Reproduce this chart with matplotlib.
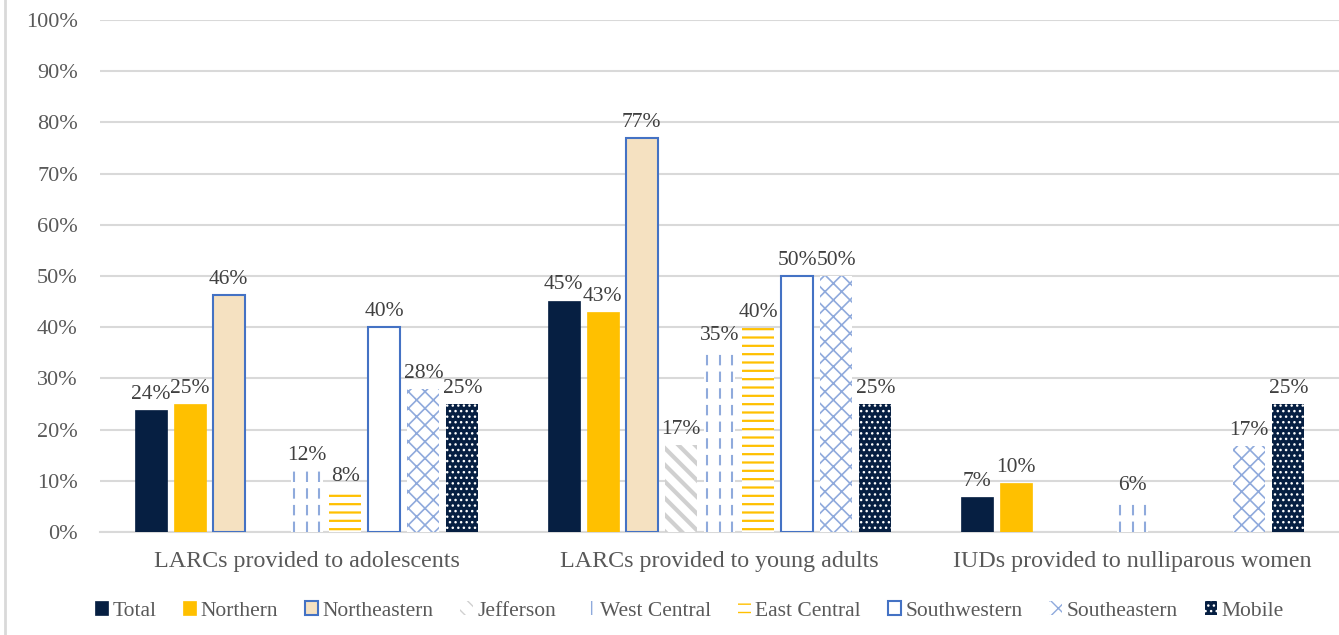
import numpy as np
import matplotlib.pyplot as plt
from matplotlib.patches import Patch
from matplotlib.lines import Line2D

# Chart data (percent); nan = no bar shown
categories = ['LARCs provided to adolescents',
              'LARCs provided to young adults',
              'IUDs provided to nulliparous women']
series = ['Total', 'Northern', 'Northeastern', 'Jefferson', 'West Central',
          'East Central', 'Southwestern', 'Southeastern', 'Mobile']
total = [23.8, 45.2, 6.8]
northern = [25.0, 42.9, 9.6]
northeastern = [46.2, 77.0, np.nan]
jefferson = [np.nan, 17.0, np.nan]
west_central = [11.9, 35.3, 6.0]
east_central = [7.7, 39.8, np.nan]
southwestern = [40.0, 50.0, np.nan]
southeastern = [27.9, 50.0, 16.7]
mobile = [25.0, 25.0, 25.0]
values = [total, northern, northeastern, jefferson, west_central,
          east_central, southwestern, southeastern, mobile]

navy = '#061f42'
gold = '#ffc000'
blue = '#4472c4'
lblue = '#8faadc'
grey = '#d0d0d0'

# facecolor, edgecolor, hatch, linewidth, hatch linewidth
styles = [
    (navy, navy, None, 0.5, 1.0),
    (gold, gold, None, 0.5, 1.0),
    ('#f5e1c1', blue, None, 1.5, 1.0),
    ('white', grey, '\\\\', 0, 3.0),
    ('white', 'white', None, 0, 1.0),
    ('white', gold, '--', 0, 1.6),
    ('white', blue, None, 1.5, 1.0),
    ('white', lblue, 'xx', 0, 1.2),
    (navy, 'white', '...', 0, 1.0),
]

plt.rcParams['font.family'] = ['Liberation Serif', 'DejaVu Serif']

fig = plt.figure(figsize=(13.39, 6.35), dpi=100)
ax = fig.add_axes([0.0747, 0.1622, 0.9253, 0.8063])

x = np.arange(len(categories))
pitch = 0.0943
width = 0.0774

handles = []
for j, (name, vals, st) in enumerate(zip(series, values, styles)):
    fc, ec, hatch, lw, hlw = st
    pos = x + (j - 4) * pitch
    with plt.rc_context({'hatch.linewidth': hlw}):
        bars = ax.bar(pos, vals, width, facecolor=fc, edgecolor=ec, hatch=hatch,
                      linewidth=lw, zorder=3)
    if name == 'West Central':
        # dashed vertical lines inside the bar
        for rect in bars:
            h = rect.get_height()
            if not np.isfinite(h) or h <= 0:
                continue
            x0, w = rect.get_x(), rect.get_width()
            ax.vlines([x0 + w * f for f in (0.12, 0.5, 0.88)], 0, h, colors=lblue,
                      linestyles=(0, (5, 3)), linewidth=1.5, zorder=4)
        handles.append(Patch(facecolor='white', edgecolor=lblue, hatch='|', linewidth=0, label=name))
    else:
        handles.append(bars)
    for p, v in zip(pos, vals):
        if np.isfinite(v):
            ax.text(p, v + 1.2, '{:.0f}%'.format(v), ha='center', va='bottom',
                    fontsize=15.5, color='#404040', zorder=5)

ax.set_ylim(0, 100)
ax.set_xlim(-0.5, 2.5)
ax.set_yticks(np.arange(0, 101, 10))
ax.set_yticklabels(['{}%'.format(t) for t in range(0, 101, 10)])
ax.set_xticks(x)
ax.set_xticklabels(categories)
ax.tick_params(axis='y', length=0, pad=16, labelsize=16, labelcolor='#595959')
ax.tick_params(axis='x', length=0, pad=14, labelsize=17.3, labelcolor='#595959')
ax.grid(axis='y', color='#d9d9d9', linewidth=1.5, zorder=0)
ax.set_axisbelow(True)
for s in ['left', 'right', 'top']:
    ax.spines[s].set_visible(False)
ax.spines['bottom'].set_color('#d9d9d9')
ax.spines['bottom'].set_linewidth(1.5)

fig.add_artist(Line2D([5 / 1339, 5 / 1339], [0, 1], color='#d9d9d9', linewidth=2))

fig.legend(handles, series, loc='center', bbox_to_anchor=(0.515, 0.038), ncol=9,
           frameon=False, fontsize=15.5, handlelength=0.6, handleheight=0.6,
           handletextpad=0.2, columnspacing=1.25, labelcolor='#595959')

fig.savefig('out.png', dpi=100)
